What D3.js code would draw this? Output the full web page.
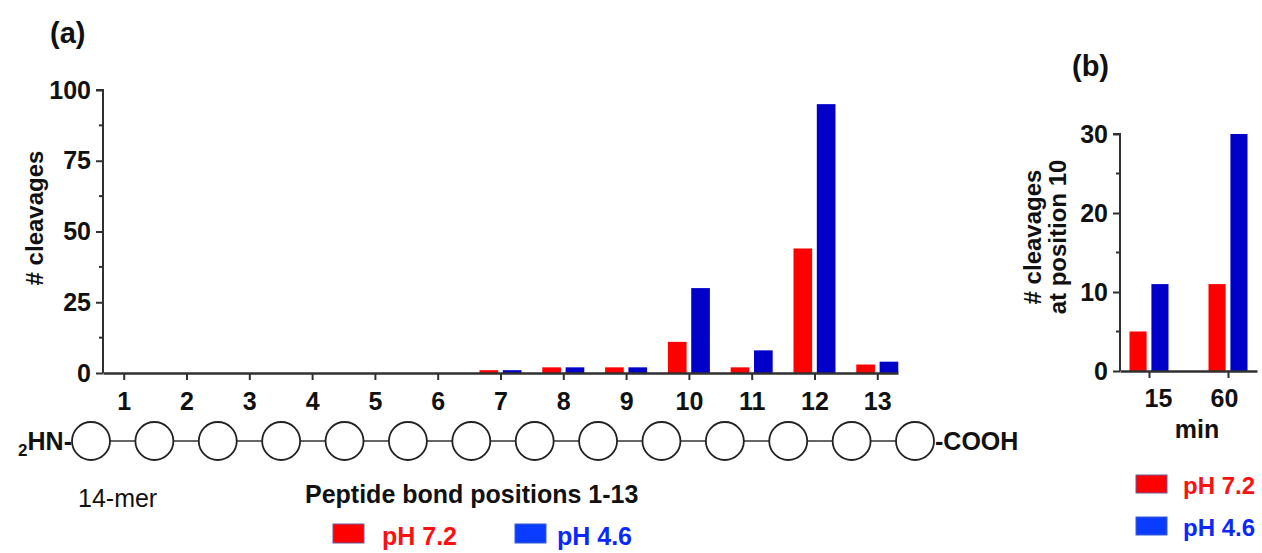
<!DOCTYPE html>
<html><head><meta charset="utf-8">
<script src="https://cdn.jsdelivr.net/npm/d3@7"></script>
<style>
html,body{margin:0;padding:0;background:#fff;}
svg text{font-family:"Liberation Sans",Arial,Helvetica,sans-serif;}
</style></head>
<body>
<svg id="c" width="1262" height="553"></svg>
<script>
// ---- data ----
const positions = [1,2,3,4,5,6,7,8,9,10,11,12,13];
const ph72 = [0,0,0,0,0,0,1,2,2,11,2,44,3];
const ph46 = [0,0,0,0,0,0,1,2,2,30,8,95,4];
const yTicksA = [0,25,50,75,100];
const yMinorA = [12.5,37.5,62.5,87.5];

const times = ["15","60"];
const pos10_ph72 = [5,11];
const pos10_ph46 = [11,30];
const yTicksB = [0,10,20,30];
const yMinorB = [5,15,25];

const seriesNames = ["pH 7.2","pH 4.6"];
const residues = d3.range(1,15);

// ---- styles ----
const RED = "#ff0000", BLUE = "#0000c8";
const LRED = "#ff0000", LBLUE = "#0a3cff";
const TRED = "#ff1010", TBLUE = "#0a28ff";
const AX = "#303030";

const svg = d3.select("#c");

// ===== Panel (a) =====
const xA = d3.scalePoint().domain(positions).range([103, 898]).padding(0.33);
const yA = d3.scaleLinear().domain([0,100]).range([373, 90]);
const sub = d3.scaleBand().domain([0,1]).range([-21,21]).paddingInner(0.2);

const gA = svg.append("g");
positions.forEach((p,i)=>{
  [ph72[i], ph46[i]].forEach((v,j)=>{
    if (v<=0) return;
    gA.append("rect")
      .attr("x", xA(p)+sub(j)).attr("width", sub.bandwidth())
      .attr("y", yA(v)).attr("height", yA(0)-yA(v))
      .attr("fill", j===0?RED:BLUE);
  });
});
// y axis
const gyA = gA.append("g").attr("transform","translate(103,0)")
  .call(d3.axisLeft(yA).tickValues(yTicksA).tickSize(7).tickPadding(5));
gyA.select(".domain").attr("stroke",AX).attr("stroke-width",2).attr("d",`M-7,${yA(100)}H0V${yA(0)}`);
gyA.selectAll(".tick line").attr("stroke",AX).attr("stroke-width",2);
gyA.selectAll(".tick text").attr("font-size",25).attr("font-weight","bold").attr("fill","#111");
gyA.selectAll(".minor").data(yMinorA).enter().append("line")
  .attr("x1",-4).attr("x2",0).attr("y1",d=>yA(d)).attr("y2",d=>yA(d))
  .attr("stroke",AX).attr("stroke-width",2);
// x axis
const gxA = gA.append("g").attr("transform",`translate(0,${yA(0)})`)
  .call(d3.axisBottom(xA).tickSize(7).tickPadding(12).tickSizeOuter(0));
gxA.select(".domain").attr("stroke",AX).attr("stroke-width",2.5);
gxA.selectAll(".tick line").attr("stroke",AX).attr("stroke-width",2);
gxA.selectAll(".tick text").attr("font-size",25).attr("font-weight","bold").attr("fill","#111");
// y label
gA.append("text").attr("transform","translate(43,218) rotate(-90)")
  .attr("text-anchor","middle").attr("font-size",24).attr("font-weight","bold").attr("fill","#111")
  .text("# cleavages");
svg.append("text").attr("x",50).attr("y",43).attr("font-size",29).attr("font-weight","bold").attr("fill","#111").text("(a)");

// peptide chain
const xR = d3.scaleLinear().domain([1,14]).range([91, 915]);
const cy = 441, r = 19;
const chain = svg.append("g");
chain.append("line").attr("x1",xR(1)).attr("x2",xR(14)).attr("y1",cy).attr("y2",cy)
  .attr("stroke","#333").attr("stroke-width",1.6);
chain.selectAll("circle").data(residues).enter().append("circle")
  .attr("cx",d=>xR(d)).attr("cy",cy).attr("r",r)
  .attr("fill","#fff").attr("stroke","#222").attr("stroke-width",1.8);
const hn = chain.append("text").attr("x",xR(1)-r).attr("y",cy+9).attr("text-anchor","end")
  .attr("font-size",25).attr("font-weight","bold").attr("fill","#111");
hn.append("tspan").attr("font-size",17).attr("dy",6).text("2");
hn.append("tspan").attr("dy",-6).text("HN-");
chain.append("text").attr("x",xR(14)+r+1).attr("y",cy+9)
  .attr("font-size",25).attr("font-weight","bold").attr("fill","#111").text("-COOH");
svg.append("text").attr("x",78).attr("y",507).attr("font-size",25).attr("fill","#111").text("14-mer");
svg.append("text").attr("x",305).attr("y",503).attr("font-size",25).attr("font-weight","bold").attr("fill","#111").text("Peptide bond positions 1-13");

// legend (a)
const legA = svg.append("g");
[[333,382],[515,557]].forEach((pp,i)=>{
  legA.append("rect").attr("x",pp[0]).attr("y",524).attr("width",31).attr("height",19)
    .attr("fill",i===0?LRED:LBLUE).attr("stroke",i===0?"#6a5a9a":"#3a5ad0").attr("stroke-width",1);
  legA.append("text").attr("x",pp[1]).attr("y",545).attr("font-size",25).attr("font-weight","bold")
    .attr("fill",i===0?TRED:TBLUE).text(seriesNames[i]);
});

// ===== Panel (b) =====
const xB = d3.scalePoint().domain(times).range([1120, 1257]).padding(0.367);
const yB = d3.scaleLinear().domain([0,30]).range([371, 134]);
const subB = d3.scaleBand().domain([0,1]).range([-19.5,19.5]).paddingInner(0.22);
const gB = svg.append("g");
times.forEach((t,i)=>{
  [pos10_ph72[i], pos10_ph46[i]].forEach((v,j)=>{
    gB.append("rect")
      .attr("x", xB(t)+subB(j)).attr("width", subB.bandwidth())
      .attr("y", yB(v)).attr("height", yB(0)-yB(v))
      .attr("fill", j===0?RED:BLUE);
  });
});
const gyB = gB.append("g").attr("transform","translate(1120,0)")
  .call(d3.axisLeft(yB).tickValues(yTicksB).tickSize(7).tickPadding(5));
gyB.select(".domain").attr("stroke",AX).attr("stroke-width",2).attr("d",`M-7,${yB(30)}H0V${yB(0)}`);
gyB.selectAll(".tick line").attr("stroke",AX).attr("stroke-width",2);
gyB.selectAll(".tick text").attr("font-size",25).attr("font-weight","bold").attr("fill","#111");
gyB.selectAll(".minor").data(yMinorB).enter().append("line")
  .attr("x1",-4).attr("x2",0).attr("y1",d=>yB(d)).attr("y2",d=>yB(d))
  .attr("stroke",AX).attr("stroke-width",2);
const gxB = gB.append("g").attr("transform",`translate(0,${yB(0)})`)
  .call(d3.axisBottom(xB).tickSize(7).tickPadding(11).tickSizeOuter(0));
gxB.select(".domain").attr("stroke",AX).attr("stroke-width",2.5);
gxB.selectAll(".tick line").attr("stroke",AX).attr("stroke-width",2);
gxB.selectAll(".tick text").attr("font-size",25).attr("font-weight","bold").attr("fill","#111")
  .attr("dx",(d,i)=> i===0 ? 9 : -4);
gB.append("text").attr("x",1197).attr("y",438).attr("text-anchor","middle").attr("font-size",25).attr("font-weight","bold").attr("fill","#111").text("min");
const ylb = gB.append("text").attr("transform","translate(1041,237) rotate(-90)")
  .attr("text-anchor","middle").attr("font-size",24).attr("font-weight","bold").attr("fill","#111");
ylb.append("tspan").attr("x",0).attr("dy",0).text("# cleavages");
ylb.append("tspan").attr("x",0).attr("dy",25).text("at position 10");
svg.append("text").attr("x",1072).attr("y",76).attr("font-size",29).attr("font-weight","bold").attr("fill","#111").text("(b)");

// legend (b)
const legB = svg.append("g");
[[475,494],[517,536]].forEach((pp,i)=>{
  legB.append("rect").attr("x",1136).attr("y",pp[0]).attr("width",31).attr("height",18)
    .attr("fill",i===0?LRED:LBLUE).attr("stroke",i===0?"#6a5a9a":"#3a5ad0").attr("stroke-width",1);
  legB.append("text").attr("x",1183).attr("y",pp[1]).attr("font-size",24).attr("font-weight","bold")
    .attr("fill",i===0?TRED:TBLUE).text(seriesNames[i]);
});
</script>
</body></html>
